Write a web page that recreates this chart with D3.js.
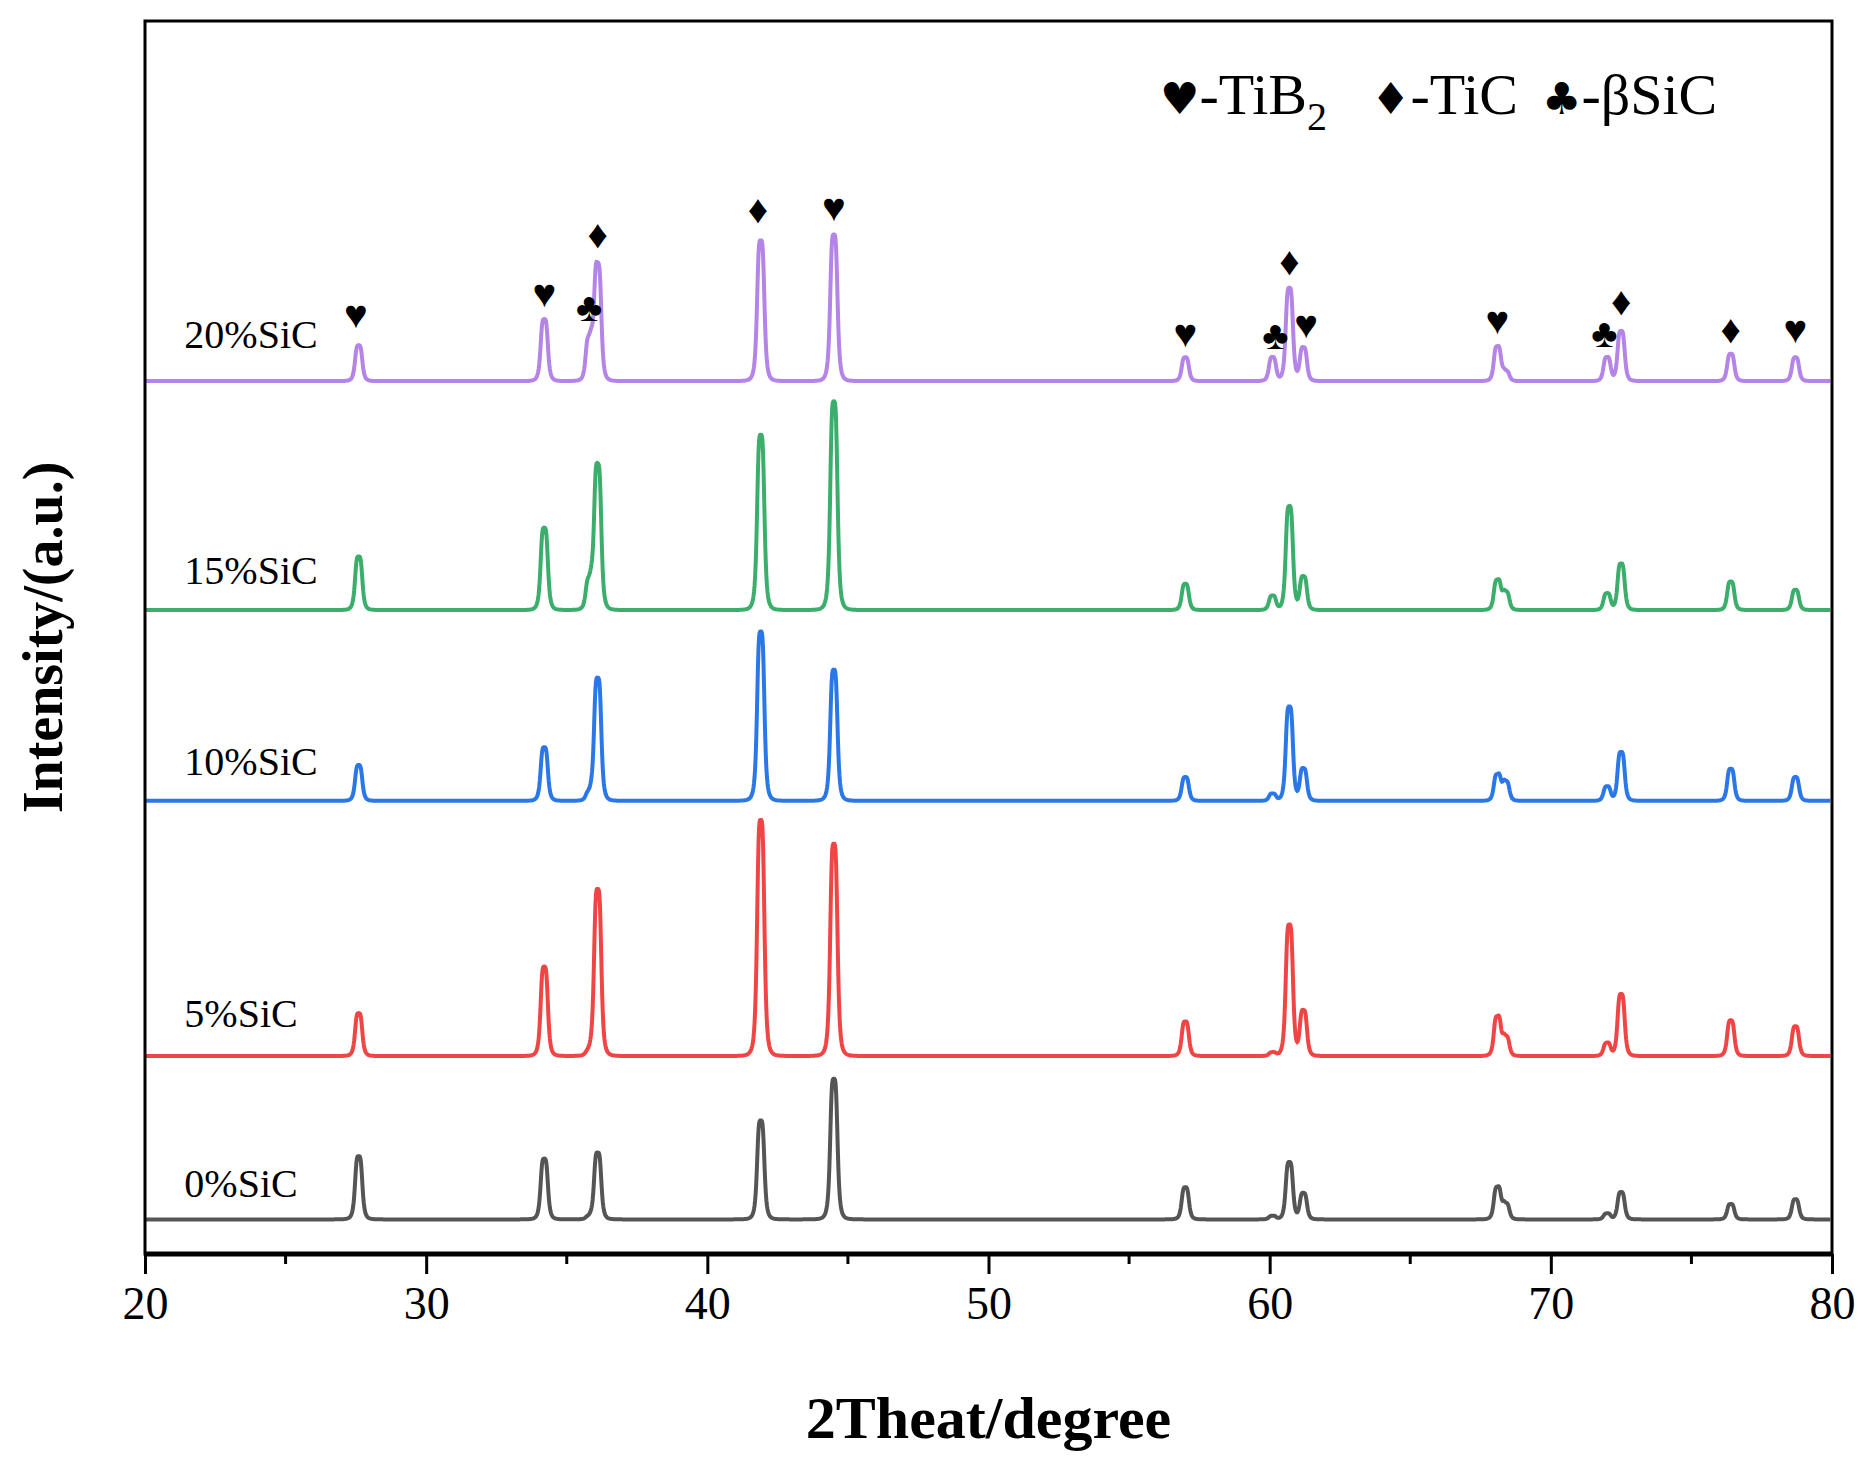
<!DOCTYPE html>
<html><head><meta charset="utf-8">
<script src="https://cdn.jsdelivr.net/npm/d3@7"></script>
<style>body{margin:0;background:#fff}text{font-family:"Liberation Serif","Times New Roman",serif}</style>
</head><body><div id="chart"></div>
<script>
// DATA --------------------
var samples = ["0%SiC", "5%SiC", "10%SiC", "15%SiC", "20%SiC"];
var colors = ["#555555", "#f04545", "#2a78e8", "#3cae6c", "#b484e6"];
var baselines = [29, 166, 380, 540, 732];           // vertical offset (a.u.)
var peakPos = [27.6, 34.2, 35.8, 36.1, 41.9, 44.5, 57.0, 60.1, 60.7, 61.2, 68.1, 68.4, 72.0, 72.5, 76.4, 78.7];
// peak heights (a.u.) per sample, same order as peakPos
var peaks0  = [53, 51, 2, 56, 83, 118, 27, 3, 48, 22, 27, 13, 5, 23, 13, 17];
var peaks5  = [36, 75, 3, 140, 198, 178, 29, 3, 110, 38, 33, 16, 11, 52, 30, 25];
var peaks10 = [30, 45, 6, 103, 142, 110, 20, 6, 79, 27, 22, 16, 12, 41, 27, 20];
var peaks15 = [45, 69, 24, 122, 147, 175, 22, 12, 87, 28, 25, 15, 14, 39, 24, 17];
var peaks20 = [30, 52, 35, 98, 118, 123, 20, 20, 78, 28, 29, 8, 20, 42, 23, 20];
var allPeaks = [peaks0, peaks5, peaks10, peaks15, peaks20];
var labelY = [48, 190, 402, 562, 760];
// phase markers on the top curve
var markX = [27.5, 34.2, 35.8, 36.1, 41.8, 44.5, 57.0, 60.2, 60.7, 61.3, 68.1, 71.9, 72.5, 76.4, 78.7];
var markY = [784, 802, 790, 851, 872, 874, 768, 767, 829, 776, 779, 768, 795, 772, 772];
var markS = ["♥", "♥", "♣", "♦", "♦", "♥", "♥", "♣", "♦", "♥", "♥", "♣", "♦", "♦", "♥"];
var xTicks = [20, 30, 40, 50, 60, 70, 80];
var xMinor = [25, 35, 45, 55, 65, 75];

// BOUNDARIES --------------------
var svgWidth = 1869, svgHeight = 1470;
var plotLeft = 145, plotRight = 1832, plotTop = 21, plotBottom = 1254;

var svg = d3.select("#chart").append("svg")
    .attr("width", svgWidth).attr("height", svgHeight);

var x = d3.scaleLinear().domain([20, 80]).range([plotLeft, plotRight]);
var y = d3.scaleLinear().domain([0, 1034]).range([plotBottom, plotTop]);

// build curves as sum of peaks
function curve(i) {
    var pts = [];
    for (var t = 20; t <= 79.95; t += 0.02) {
        var v = baselines[i];
        allPeaks[i].forEach(function(h, k) {
            var d = (t - peakPos[k]) / 0.14;
            v += h / (1 + d * d * d * d);
        });
        pts.push([t, v]);
    }
    return pts;
}
var line = d3.line().x(d => x(d[0])).y(d => y(d[1]));

samples.forEach(function(s, i) {
    svg.append("path").attr("d", line(curve(i)))
        .attr("fill", "none").attr("stroke", colors[i]).attr("stroke-width", 4);
    svg.append("text").attr("x", x(21.4)).attr("y", y(labelY[i]))
        .attr("font-size", 40).text(s);
});

svg.selectAll("text.mark").data(markX).enter().append("text")
    .attr("x", d => x(d)).attr("y", (d, i) => y(markY[i]))
    .attr("text-anchor", "middle").attr("dominant-baseline", "middle")
    .attr("font-family", "DejaVu Sans").attr("font-size", 40)
    .text((d, i) => markS[i]);

// frame
svg.append("rect").attr("x", plotLeft).attr("y", plotTop)
    .attr("width", plotRight - plotLeft).attr("height", plotBottom - plotTop)
    .attr("fill", "none").attr("stroke", "#000").attr("stroke-width", 3);
svg.append("line").attr("x1", plotLeft).attr("x2", plotRight).attr("y1", plotBottom).attr("y2", plotBottom)
    .attr("stroke", "#000").attr("stroke-width", 5);

// x axis
var xAxis = svg.append("g").attr("transform", `translate(0,${plotBottom})`)
    .call(d3.axisBottom(x).tickValues(xTicks).tickSize(20).tickPadding(12));
xAxis.select(".domain").remove();
xAxis.selectAll("line").attr("stroke-width", 3);
xAxis.selectAll("text").attr("font-family", "Liberation Serif").attr("font-size", 46).attr("fill", "#000");
svg.selectAll("line.minor").data(xMinor).enter().append("line")
    .attr("x1", d => x(d)).attr("x2", d => x(d)).attr("y1", plotBottom).attr("y2", plotBottom + 10)
    .attr("stroke", "#000").attr("stroke-width", 3);

// titles
svg.append("text").attr("x", (plotLeft + plotRight) / 2).attr("y", 1438).attr("text-anchor", "middle")
    .attr("font-size", 60).attr("font-weight", "bold").text("2Theat/degree");
svg.append("text").attr("transform", `translate(62,${(plotTop + plotBottom) / 2}) rotate(-90)`)
    .attr("text-anchor", "middle").attr("font-size", 56).attr("font-weight", "bold").text("Intensity/(a.u.)");

// legend
var leg = svg.append("text").attr("x", 1160).attr("y", 114).attr("font-size", 58);
leg.append("tspan").attr("font-family", "DejaVu Sans").attr("font-size", 44).text("♥");
leg.append("tspan").text("-TiB");
leg.append("tspan").attr("font-size", 40).attr("dy", 16).text("2");
leg.append("tspan").attr("dy", -16).attr("dx", 44).attr("font-family", "DejaVu Sans").attr("font-size", 44).text("♦");
leg.append("tspan").text("-TiC");
leg.append("tspan").attr("dx", 24).attr("font-family", "DejaVu Sans").attr("font-size", 44).text("♣");
leg.append("tspan").text("-βSiC");
</script></body></html>
